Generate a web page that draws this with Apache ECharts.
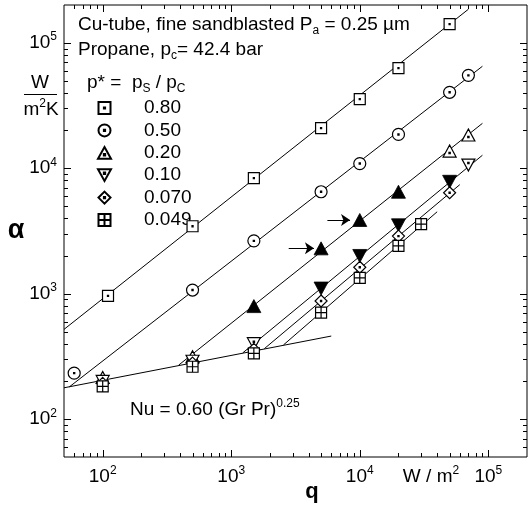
<!DOCTYPE html>
<html>
<head>
<meta charset="utf-8">
<script src="https://cdn.jsdelivr.net/npm/echarts@6/dist/echarts.min.js"></script>
<style>
  html, body { margin: 0; padding: 0; background: #fff; }
  #chart { width: 531px; height: 508px; }
</style>
</head>
<body>
<div id="chart"></div>
<script>
// Heat flux q (W/m²) and heat transfer coefficient α (W/m²K) for each reduced pressure p*
const q080 = [110, 500, 1500, 5000, 10000, 20000, 50000];
const a080 = [960, 3450, 8350, 20900, 35600, 62800, 141000];

const q050 = [60, 500, 1500, 5000, 10000, 20000, 50000, 70000];
const a050 = [233, 1070, 2640, 6500, 10900, 18600, 40300, 55000];

const q020Open = [100, 500, 50000, 70000];
const a020Open = [215, 315, 13700, 18400];
const q020Solid = [1500, 5000, 10000, 20000];
const a020Solid = [797, 2300, 3870, 6500];

const q010Open = [100, 500, 1500, 70000];
const a010Open = [200, 290, 400, 10600];
const q010Solid = [5000, 10000, 20000, 50000];
const a010Solid = [1100, 2000, 3510, 7800];

const q0070 = [100, 500, 1500, 5000, 10000, 20000, 50000];
const a0070 = [193, 280, 360, 875, 1625, 2880, 6380];

const q0049 = [100, 500, 1500, 5000, 10000, 20000, 30000];
const a0049 = [183, 262, 335, 706, 1340, 2410, 3590];

// Correlation lines (end points, [q, α])
const fit080 = [[50, 520], [70000, 185000]];
const fit050 = [[55, 181], [90000, 65000]];
const fit020 = [[390, 270], [90000, 22800]];
const fit010 = [[1230, 338], [90000, 12700]];
const fit0070 = [[1810, 365], [60000, 7400]];
const fit0049 = [[2550, 391], [40000, 4500]];
const nuLine = [[50, 178], [6000, 460]];

// Arrows pointing at the solid p* = 0.20 points at 5000 and 10000 W/m²
const arrowQ = [[2800, 4400], [5600, 8400]];
const arrowTarget = [1, 2];

// Legend labels
const pLabels = ['0.80', '0.50', '0.20', '0.10', '0.070', '0.049'];

// Axis ticks
const xRange = [50, 200000];
const yRange = [50, 200000];
const majorTicks = [100, 1000, 10000, 100000];
const minorTicks = [60, 70, 80, 90,
  200, 300, 400, 500, 600, 700, 800, 900,
  2000, 3000, 4000, 5000, 6000, 7000, 8000, 9000,
  20000, 30000, 40000, 50000, 60000, 70000, 80000, 90000];

const FONT = "'Liberation Sans', Arial, sans-serif";
const FS = 19;

const sym = {
  square: 'path://M0,0H20V20H0Z M9,9H11V11H9Z',
  circle: 'path://M10,0A10,10 0 1,1 10,20A10,10 0 1,1 10,0Z M9,9H11V11H9Z',
  triUp: 'path://M10,0L20,18L0,18Z M9,11H11V13H9Z',
  triDown: 'path://M0,0H20L10,18Z M9,5H11V7H9Z',
  triUpSolid: 'path://M10,0L20,18L0,18Z',
  triDownSolid: 'path://M0,0H20L10,18Z',
  diamond: 'path://M10,0L20,10L10,20L0,10Z M9,9H11V11H9Z',
  squarePlus: 'path://M0,0H20V20H0Z M10,0V20 M0,10H20'
};

const zip = (xs, ys) => xs.map((x, i) => [x, ys[i]]);

function scatter(name, data, symbol, size, solid) {
  return {
    name: name, type: 'scatter', data: data, symbol: symbol, symbolSize: size,
    z: 4, silent: true,
    itemStyle: solid
      ? { color: '#000', borderColor: '#000', borderWidth: 0.8, opacity: 1 }
      : { color: '#fff', borderColor: '#000', borderWidth: 1.2, opacity: 1 },
    emphasis: { disabled: true }
  };
}

function fitLine(name, data) {
  return {
    name: name, type: 'line', data: data, showSymbol: false, symbol: 'none',
    silent: true, z: 2, animation: false,
    lineStyle: { color: '#000', width: 1 }
  };
}

function tickSeries(name, dim, values, len) {
  return {
    name: name, type: 'custom', silent: true, z: 6, clip: false,
    data: values.map(v => dim === 'x' ? [v, 1000] : [1000, v]),
    renderItem: function (params, api) {
      const cs = params.coordSys;
      const p = api.coord([api.value(0), api.value(1)]);
      let segs;
      if (dim === 'x') {
        const x = Math.round(p[0]) + 0.5;
        segs = [[x, cs.y + cs.height, x, cs.y + cs.height - len], [x, cs.y, x, cs.y + len]];
      } else {
        const y = Math.round(p[1]) + 0.5;
        segs = [[cs.x, y, cs.x + len, y], [cs.x + cs.width, y, cs.x + cs.width - len, y]];
      }
      return {
        type: 'group',
        children: segs.map(s => ({
          type: 'line',
          shape: { x1: s[0], y1: s[1], x2: s[2], y2: s[3] },
          style: { stroke: '#000', lineWidth: 1 }
        }))
      };
    }
  };
}

const richBase = {
  n: { fontSize: FS, lineHeight: 24, fontFamily: FONT, color: '#000' },
  sub: { fontSize: 12, lineHeight: 12, verticalAlign: 'bottom', fontFamily: FONT, color: '#000' },
  sup: { fontSize: 12, lineHeight: 12, verticalAlign: 'top', fontFamily: FONT, color: '#000' }
};

function powLabel(v) {
  const e = Math.round(Math.log10(v));
  if (Math.abs(Math.log10(v) - e) > 1e-6) return '';
  return '{n|10}{sup|' + e + '}';
}

const chart = echarts.init(document.getElementById('chart'), null, { renderer: 'canvas' });

const option = {
  animation: false,
  backgroundColor: '#fff',
  grid: {
    left: 64, top: 5, right: 4, bottom: 51,
    show: true, borderColor: '#000', borderWidth: 1, backgroundColor: 'transparent'
  },
  xAxis: {
    type: 'log', logBase: 10, min: xRange[0], max: xRange[1],
    axisLine: { show: false }, axisTick: { show: false }, splitLine: { show: false },
    axisLabel: { formatter: powLabel, rich: richBase, margin: 8, showMinLabel: false, showMaxLabel: false }
  },
  yAxis: {
    type: 'log', logBase: 10, min: yRange[0], max: yRange[1],
    axisLine: { show: false }, axisTick: { show: false }, splitLine: { show: false },
    axisLabel: { formatter: powLabel, rich: richBase, margin: 7, showMinLabel: false, showMaxLabel: false }
  },
  legend: {
    data: pLabels,
    orient: 'vertical', left: 92, top: 93.5,
    itemWidth: 13, itemHeight: 12, itemGap: 3.4,
    selectedMode: false,
    textStyle: { fontSize: FS, fontFamily: FONT, color: '#000', lineHeight: 19, padding: [0, 0, 0, 28] }
  },
  graphic: [
    { type: 'text', x: 78, y: 25, style: { text: '{n|Cu-tube, fine sandblasted P}{sub|a}{n| = 0.25 µm}', rich: richBase, verticalAlign: 'middle', align: 'left' } },
    { type: 'text', x: 78, y: 50, style: { text: '{n|Propane, p}{sub|c}{n|= 42.4 bar}', rich: richBase, verticalAlign: 'middle', align: 'left' } },
    { type: 'text', x: 87, y: 83, style: { text: '{n|p* =  p}{sub|S}{n| / p}{sub|C}', rich: richBase, verticalAlign: 'middle', align: 'left' } },
    { type: 'text', x: 130, y: 410, style: { text: '{n|Nu = 0.60 (Gr Pr)}{sup|0.25}', rich: richBase, verticalAlign: 'middle', align: 'left' } },
    { type: 'text', x: 16, y: 231, style: { text: 'α', font: 'bold 27px ' + FONT, fill: '#000', align: 'center', verticalAlign: 'middle' } },
    { type: 'text', x: 40, y: 83, style: { text: 'W', font: FS + 'px ' + FONT, fill: '#000', align: 'center', verticalAlign: 'middle' } },
    { type: 'line', shape: { x1: 24, y1: 94.5, x2: 57, y2: 94.5 }, style: { stroke: '#000', lineWidth: 1.2 } },
    { type: 'text', x: 41, y: 110, style: { text: '{n|m}{sup|2}{n|K}', rich: richBase, align: 'center', verticalAlign: 'middle' } },
    { type: 'text', x: 312, y: 492, style: { text: 'q', font: 'bold 22px ' + FONT, fill: '#000', align: 'center', verticalAlign: 'middle' } },
    { type: 'text', x: 431, y: 477, style: { text: '{n|W / m}{sup|2}', rich: richBase, align: 'center', verticalAlign: 'middle' } }
  ],
  series: [
    fitLine('fit080', fit080),
    fitLine('fit050', fit050),
    fitLine('fit020', fit020),
    fitLine('fit010', fit010),
    fitLine('fit0070', fit0070),
    fitLine('fit0049', fit0049),
    fitLine('nu', nuLine),
    {
      name: 'arrows', type: 'lines', coordinateSystem: 'cartesian2d', silent: true, z: 3,
      symbol: ['none', 'arrow'], symbolSize: 9,
      lineStyle: { color: '#000', width: 1, opacity: 1 },
      data: arrowQ.map((qq, i) => ({ coords: [[qq[0], a020Solid[arrowTarget[i]]], [qq[1], a020Solid[arrowTarget[i]]]] }))
    },
    scatter(pLabels[0], zip(q080, a080), sym.square, 11),
    scatter(pLabels[1], zip(q050, a050), sym.circle, 12),
    scatter(pLabels[2], zip(q020Open, a020Open), sym.triUp, [13, 12]),
    scatter('0.20 solid', zip(q020Solid, a020Solid), sym.triUpSolid, [14, 13], true),
    scatter(pLabels[3], zip(q010Open, a010Open), sym.triDown, [13, 12]),
    scatter('0.10 solid', zip(q010Solid, a010Solid), sym.triDownSolid, [14, 13], true),
    scatter(pLabels[4], zip(q0070, a0070), sym.diamond, 12),
    scatter(pLabels[5], zip(q0049, a0049), sym.squarePlus, 11),
    tickSeries('xMajor', 'x', majorTicks, 7),
    tickSeries('xMinor', 'x', minorTicks, 4),
    tickSeries('yMajor', 'y', majorTicks, 7),
    tickSeries('yMinor', 'y', minorTicks, 4)
  ]
};

chart.setOption(option);
</script>
</body>
</html>
